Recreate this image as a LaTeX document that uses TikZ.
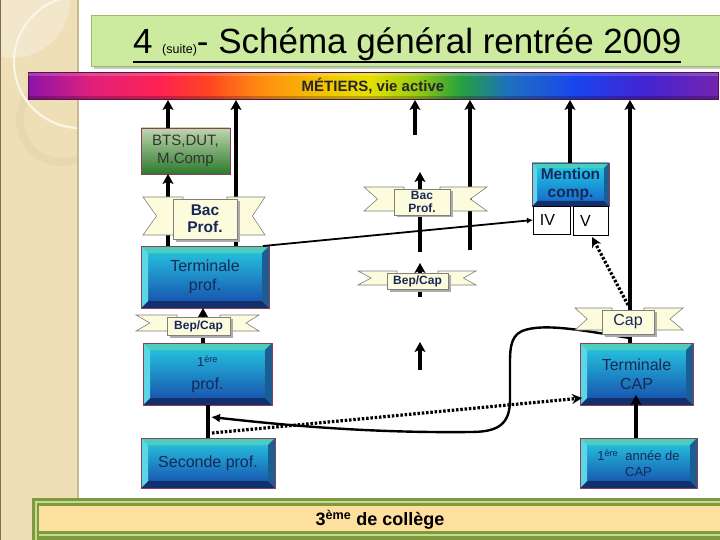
\documentclass[tikz,border=0pt]{standalone}
\usepackage{fontspec}
\setmainfont{Liberation Sans}
\usetikzlibrary{arrows.meta,calc}

\definecolor{side}{HTML}{EFDFB7}
\definecolor{sidelt}{HTML}{F3E7CB}
\definecolor{sidedk}{HTML}{E8D8B0}
\definecolor{sideedge}{HTML}{C9B98F}
\definecolor{titlegreen}{HTML}{CDEB9F}
\definecolor{titleedge}{HTML}{9CBA6A}
\definecolor{navy}{HTML}{17275A}
\definecolor{cyanTop}{HTML}{26CCE2}
\definecolor{blueBot}{HTML}{1648AA}
\definecolor{mTop}{HTML}{1ED4E8}
\definecolor{mBot}{HTML}{1860C8}
\definecolor{bvT}{HTML}{4CCDBD}
\definecolor{bvL}{HTML}{5AD6E4}
\definecolor{bvR}{HTML}{1D5E92}
\definecolor{bvB}{HTML}{13306E}
\definecolor{boxedge}{HTML}{8A3F5A}
\definecolor{btsTop}{HTML}{BFD6AE}
\definecolor{btsBot}{HTML}{2C7A2C}
\definecolor{cream}{HTML}{FCFCDC}
\definecolor{ribedge}{HTML}{7F7F7F}
\definecolor{olive}{HTML}{7E9A3A}
\definecolor{olivelt}{HTML}{C5D89A}
\definecolor{peach}{HTML}{FDDF9E}
\definecolor{rbedge}{HTML}{5A1050}
\definecolor{rb1}{HTML}{8C14A8}
\definecolor{rb2}{HTML}{E0207C}
\definecolor{rb3}{HTML}{FF2252}
\definecolor{rb4}{HTML}{FF4422}
\definecolor{rb5}{HTML}{FF8A12}
\definecolor{rb6}{HTML}{F2C400}
\definecolor{rb7}{HTML}{E6E000}
\definecolor{rb8}{HTML}{9CCC10}
\definecolor{rb9}{HTML}{24A040}
\definecolor{rb10}{HTML}{1E70C0}
\definecolor{rb11}{HTML}{1A44EE}
\definecolor{rb12}{HTML}{4424D0}
\definecolor{rb13}{HTML}{7424B0}

\pgfdeclarehorizontalshading{rainbowsh}{100bp}{color(0bp)=(rb1); color(25bp)=(rb1); color(29.6bp)=(rb2); color(34.6bp)=(rb3); color(38bp)=(rb4); color(41.7bp)=(rb5); color(46.4bp)=(rb6); color(49.7bp)=(rb7); color(53bp)=(rb8); color(56.4bp)=(rb9); color(59.8bp)=(rb10); color(64.8bp)=(rb11); color(69.8bp)=(rb12); color(75bp)=(rb13); color(100bp)=(rb13)}

\tikzset{
  every node/.style={inner sep=0pt, outer sep=0pt, align=center, text=navy},
  bevel/.style={path picture={
    \fill[bvT] (path picture bounding box.north west) -- (path picture bounding box.north east) -- ([shift={(-#1,-#1)}]path picture bounding box.north east) -- ([shift={(#1,-#1)}]path picture bounding box.north west) -- cycle;
    \fill[bvB] (path picture bounding box.south west) -- (path picture bounding box.south east) -- ([shift={(-#1,#1)}]path picture bounding box.south east) -- ([shift={(#1,#1)}]path picture bounding box.south west) -- cycle;
    \fill[bvL] (path picture bounding box.north west) -- (path picture bounding box.south west) -- ([shift={(#1,#1)}]path picture bounding box.south west) -- ([shift={(#1,-#1)}]path picture bounding box.north west) -- cycle;
    \fill[bvR] (path picture bounding box.north east) -- (path picture bounding box.south east) -- ([shift={(-#1,#1)}]path picture bounding box.south east) -- ([shift={(-#1,-#1)}]path picture bounding box.north east) -- cycle;
  }},
  bluebox/.style={draw=boxedge, line width=0.7pt, top color=cyanTop, bottom color=blueBot, bevel=#1, font=\fontsize{16}{19}\selectfont},
  bluebox/.default=7pt,
  greenbox/.style={draw=boxedge, line width=0.7pt, top color=btsTop, bottom color=btsBot, font=\fontsize{15}{18}\selectfont, text=black!80},
  ribtail/.style={fill=cream, draw=ribedge, line width=0.6pt},
  ribcenter/.style={fill=cream, draw=ribedge, line width=0.6pt},
  thk/.style={line width=3.6pt, -{Stealth[length=10pt,width=11pt,inset=2.5pt]}},
  thkline/.style={line width=3.6pt},
  thinarrow/.style={line width=1.8pt, -{Latex[length=6pt,width=6pt]}},
  dotarrow/.style={line width=3.2pt, dash pattern=on 2.5pt off 1.8pt, -{Stealth[length=10pt,width=10pt]}},
  curvearrow/.style={line width=2.4pt, -{Latex[length=9pt,width=9pt]}},
  cellbox/.style={draw=black, fill=white, line width=0.8pt, text=black, font=\fontsize{16}{18}\selectfont},
}

% #1 name, #2 L, #3 R, #4 T, #5 B, #6 cL, #7 cR, #8 text, #9 font
\newcommand{\ribbon}[9]{%
  \filldraw[ribtail] (#2,#4) -- ({#6+10},#4) -- ({#6+10},{#5-4}) -- (#2,{#5-4}) -- ({#2+0.45*(#6-#2)},{(#4+#5-4)/2}) -- cycle;
  \filldraw[ribtail] (#3,#4) -- ({#7-10},#4) -- ({#7-10},{#5-4}) -- (#3,{#5-4}) -- ({#3-0.45*(#3-#7)},{(#4+#5-4)/2}) -- cycle;
  \fill[gray!65] ({#6+2.5},{#4+4}) rectangle ({#7+2.5},{#5+2.5});
  \node[ribcenter, minimum width={#7-#6}, minimum height={#5-#4-2}, font=#9] (#1) at ({(#6+#7)/2},{(#4+2+#5)/2}) {#8};
}

\begin{document}
\begin{tikzpicture}[x=1pt,y=-1pt]
\useasboundingbox (0,0) rectangle (720,540);
\fill[white] (0,0) rectangle (720,540);

% side band
\fill[side] (0,0) rectangle (78,540);
\begin{scope}
  \clip (0,0) rectangle (78,540);
  \fill[sidelt] (12,0) circle[radius=58pt];
  \draw[sidedk, line width=8pt] (62,120) circle[radius=42pt];
  \draw[white!70!side, line width=2.2pt] (80,62) circle[radius=66pt];
\end{scope}
\draw[sideedge, line width=2.5pt] (78,0) -- (78,540);
\draw[sideedge!60!black, line width=1pt] (0.5,0) -- (0.5,540);

% bottom bar
\fill[olive] (32,498) rectangle (725,545);
\fill[olivelt] (34.5,500.5) rectangle (725,545);
\fill[olive] (36.5,502.5) rectangle (725,545);
\fill[peach] (39,505.5) rectangle (725,531);
\fill[olivelt] (39,534) rectangle (725,536);
\node[font=\bfseries\fontsize{18}{20}\selectfont, text=black] (college) at (380,520) {3\textsuperscript{ème} de collège};

% title
\fill[gray!45] (94,18) rectangle (725,69);
\node[draw=titleedge, fill=titlegreen, line width=0.8pt, minimum width=640, minimum height=51, anchor=north west] (titlebox) at (91,15) {};
\node[anchor=base west, text=black, font=\fontsize{35}{40}\selectfont] (title) at (133,54) {4 {\fontsize{12.5}{14}\selectfont(suite)}- Schéma général rentrée 2009};
\draw[line width=2pt] ([yshift=-8pt]title.base west) -- ([yshift=-8pt]title.base east);

% rainbow bar
\node[shade, shading=rainbowsh, draw=rbedge, line width=1pt, minimum width=690, minimum height=27, text=black!85, font=\bfseries\fontsize{15}{17}\selectfont] (rb) at (373,86.5) {MÉTIERS, vie active};
\fill[black, opacity=0.22] ([yshift=0.5pt]rb.south west) rectangle ([yshift=4pt]rb.south east);
\fill[white, opacity=0.18] ([yshift=-0.5pt]rb.north west) rectangle ([yshift=-3pt]rb.north east);

% boxes
\node[greenbox, minimum width=89, minimum height=46] (bts) at (185.5,151) {BTS,DUT,\\M.Comp};
\node[bluebox, minimum width=128, minimum height=62] (termp) at (205,277) {Terminale\\prof.};
\node[bluebox, minimum width=129, minimum height=62] (prem) at (207.5,374) {{\fontsize{13}{15}\selectfont 1\textsuperscript{ère}}\\[4pt]prof.};
\node[bluebox, minimum width=134, minimum height=50] (sec) at (208,463) {Seconde prof.};
\node[bluebox=5pt, top color=mTop, bottom color=mBot, minimum width=77, minimum height=43, font=\bfseries\fontsize{15.5}{18}\selectfont] (mention) at (570.5,184.5) {Mention\\comp.};
\node[cellbox, minimum width=37, minimum height=28] (iv) at (551.5,220) {IV\hspace{8pt}};
\node[cellbox, minimum width=35, minimum height=29] (v) at (590.5,220.5) {V\hspace{10pt}};
\node[bluebox, minimum width=113, minimum height=62] (tcap) at (636.5,374) {Terminale\\CAP};
\node[bluebox, minimum width=117, minimum height=50, font=\fontsize{13}{16}\selectfont] (cap1) at (638.5,463) {1\textsuperscript{ère}~~année de\\CAP};

% x positions of connectors
\coordinate (xA) at (168,0);
\coordinate (xB) at (236,0);
\coordinate (xC) at (203,0);
\coordinate (xD) at (208,0);
\coordinate (xE) at (570,0);
\coordinate (xF) at (630,0);
\coordinate (xG) at (636,0);
\coordinate (m1) at (415,135);
\coordinate (m2a) at (420,252);
\coordinate (m2b) at (420,172);
\coordinate (m3) at (470,250);
\coordinate (m4a) at (420,297);
\coordinate (m4b) at (420,263);
\coordinate (m5a) at (420,370);
\coordinate (m5b) at (420,342);
\coordinate (dotCap) at (628,305);
\coordinate (g2) at (636,395);
\coordinate (cvStart) at (630,338);
\coordinate (cvEnd) at (211,417);
\coordinate (dotS) at (212,433);
\coordinate (dotE) at (582,398);

% connectors
\draw[thk] (bts.north -| xA) -- (rb.south -| xA);
\draw[thk] (termp.north -| xA) -- (bts.south -| xA);
\draw[thk] (termp.north -| xB) -- (rb.south -| xB);
\draw[thinarrow] ([xshift=-6pt]termp.north east) -- (iv.west);
\draw[thk] (m1) -- (rb.south -| m1);
\draw[thk] (m2a) -- (m2b);
\draw[thk] (m3) -- (rb.south -| m3);
\draw[thk] (m4a) -- (m4b);
\draw[thk] (m5a) -- (m5b);
\draw[thk] (mention.north -| xE) -- (rb.south -| xE);
\draw[thk] (tcap.north -| xF) -- (rb.south -| xF);
\draw[dotarrow] (dotCap) -- ([xshift=1.5pt,yshift=-2pt]v.south);
\draw[thk] (cap1.north -| xG) -- (g2);
\draw[thk] (prem.north -| xC) -- (termp.south -| xC);
\draw[thkline] (sec.north -| xD) -- (prem.south -| xD);
\draw[curvearrow] (cvStart) .. controls (590,332) and (545,322) .. (522,331) .. controls (509,337) and (510,352) .. (510,372) -- (510,400) .. controls (510,426) and (496,432) .. (470,432) .. controls (380,433) and (300,427) .. (cvEnd);
\draw[dotarrow] (dotS) -- (dotE);

% ribbons
\ribbon{rbBacA}{143}{265}{197}{239}{173}{237}{Bac\\Prof.}{\bfseries\fontsize{15.5}{17}\selectfont}
\ribbon{rbBacB}{364}{487}{187}{215}{394}{450}{Bac\\Prof.}{\bfseries\fontsize{12}{12.5}\selectfont}
\ribbon{rbBepB}{358}{476}{271}{289}{387}{448}{Bep/Cap}{\bfseries\fontsize{12}{14}\selectfont}
\ribbon{rbBepA}{136}{259}{315}{335}{167}{230}{Bep/Cap}{\bfseries\fontsize{12}{14}\selectfont}
\ribbon{rbCap}{575}{683}{308}{334}{602}{654}{Cap}{\fontsize{16}{18}\selectfont}
\end{tikzpicture}
\end{document}
